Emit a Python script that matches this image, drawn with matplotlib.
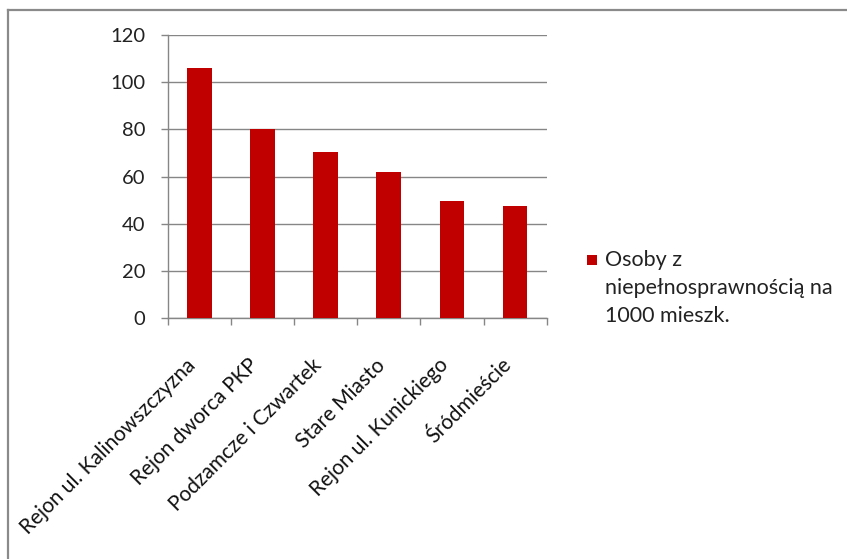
import matplotlib
matplotlib.use("Agg")
import matplotlib.pyplot as plt
from matplotlib.patches import Rectangle
from matplotlib.lines import Line2D
import numpy as np

categories = ["Rejon ul. Kalinowszczyzna", "Rejon dworca PKP", "Podzamcze i Czwartek",
              "Stare Miasto", "Rejon ul. Kunickiego", "Śródmieście"]
values = [106.0, 80.0, 70.3, 62.0, 49.4, 47.6]
series_label = "Osoby z\nniepełnosprawnością na\n1000 mieszk."
y_ticks = [0, 20, 40, 60, 80, 100, 120]

plt.rcParams['font.family'] = ['Lato', 'DejaVu Sans']
W, H = 847, 559
fig = plt.figure(figsize=(W / 100, H / 100), dpi=100)
fig.patch.set_facecolor('white')

ax = fig.add_axes([167.7 / W, 1 - 317.7 / H, (546.7 - 167.7) / W, (317.7 - 35.3) / H])
x = np.arange(len(categories))
bars = ax.bar(x, values, width=0.39, color='#C00000', zorder=3)

grid_c = '#868686'
ax.set_xlim(-0.5, len(categories) - 0.5)
ax.set_ylim(0, 120)
ax.set_yticks(y_ticks)
ax.set_yticklabels([str(v) for v in y_ticks])
ax.yaxis.grid(True, color=grid_c, linewidth=1.0, zorder=0)
ax.set_axisbelow(True)
for s in ['top', 'right']:
    ax.spines[s].set_visible(False)
for s in ['left', 'bottom']:
    ax.spines[s].set_color(grid_c)
    ax.spines[s].set_linewidth(1.0)

ax.tick_params(axis='y', direction='out', length=5, width=1, color=grid_c, pad=11,
               labelsize=14.5, labelcolor='#222222')
ax.set_xticks(np.arange(-0.5, len(categories) + 0.5, 1.0), minor=False)
ax.set_xticklabels([])
ax.set_xticks(x, minor=True)
ax.set_xticklabels(categories, minor=True, rotation=45, ha='right', va='bottom',
                   rotation_mode='anchor', fontsize=15, color='#111111')
ax.tick_params(axis='x', which='major', direction='out', length=5, width=1, color=grid_c)
ax.tick_params(axis='x', which='minor', length=0, pad=37)

# legend drawn manually so the key sits beside the first line
fc = bars[0].get_facecolor()
fig.patches.append(Rectangle((587 / W, 1 - 265 / H), 9.5 / W, 9.5 / H,
                             transform=fig.transFigure, facecolor=fc, edgecolor='none'))
fig.text(605 / W, 1 - 250 / H, series_label, ha='left', va='top', fontsize=15.5,
         color='#222222', linespacing=1.5)

# chart area border (top and left visible)
fig.add_artist(Line2D([8 / W, 8 / W], [0, 1 - 10 / H], transform=fig.transFigure,
                      color='#8a8a8a', linewidth=1.6))
fig.add_artist(Line2D([8 / W, 1], [1 - 10 / H, 1 - 10 / H], transform=fig.transFigure,
                      color='#8a8a8a', linewidth=1.6))

fig.savefig('out.png', dpi=100, facecolor='white')
